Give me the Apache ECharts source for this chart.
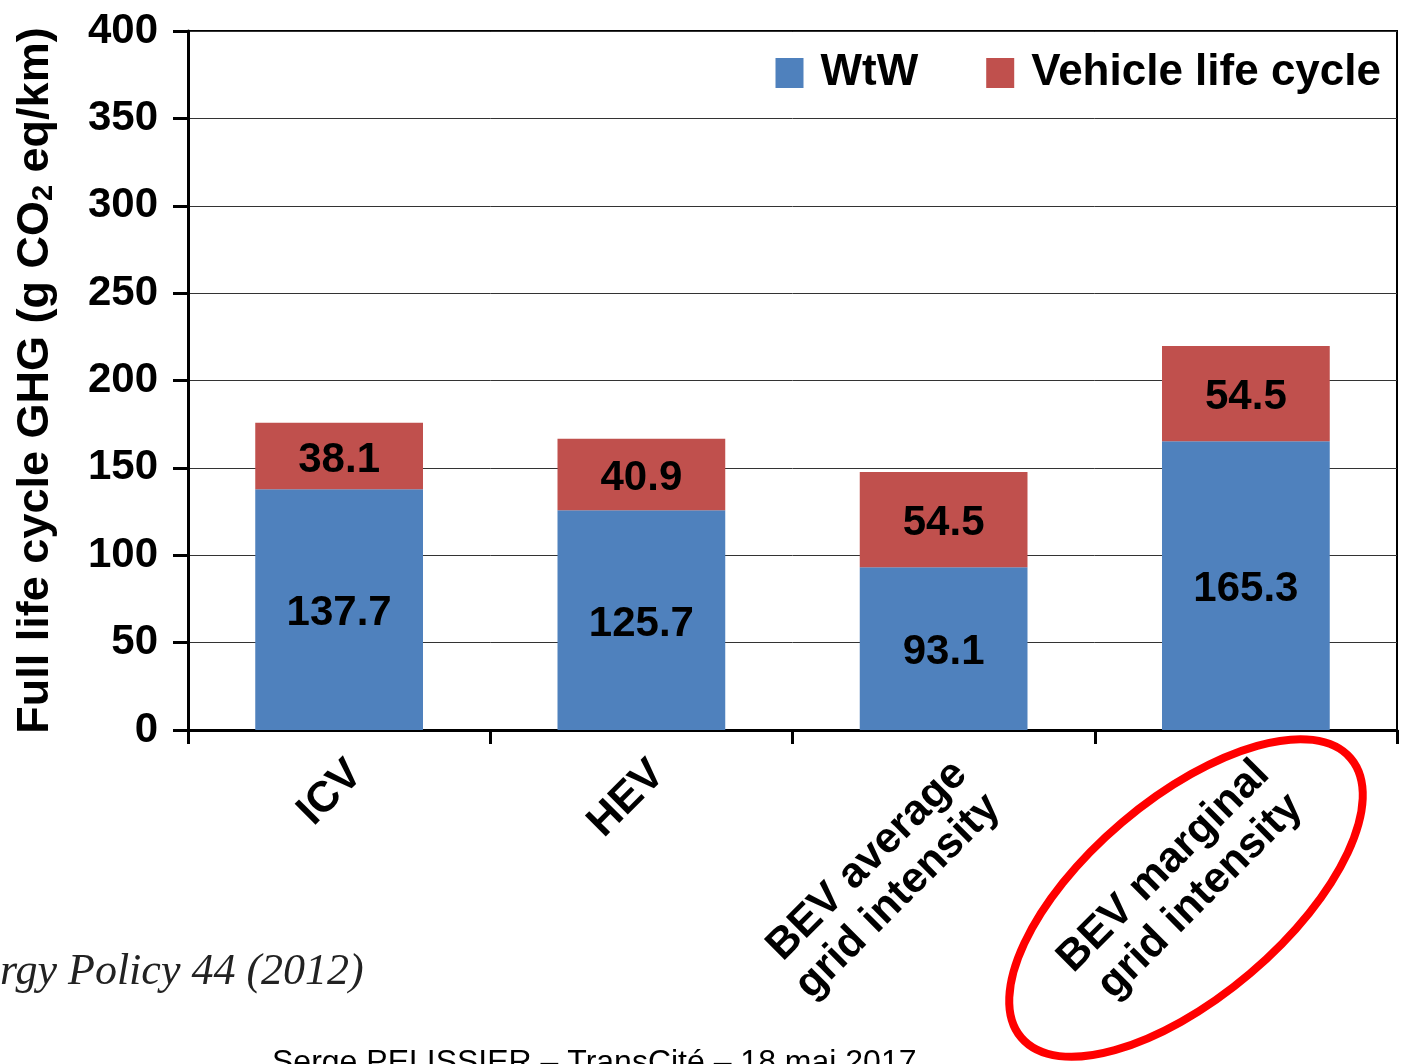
<!DOCTYPE html>
<html>
<head>
<meta charset="utf-8">
<script src="https://cdn.jsdelivr.net/npm/echarts@6/dist/echarts.min.js"></script>
<style>
html,body{margin:0;padding:0;background:#fff;}
#chart{width:1406px;height:1064px;}
</style>
</head>
<body>
<div id="chart"></div>
<script>
const categories = ['ICV', 'HEV', 'BEV average\ngrid intensity', 'BEV marginal\ngrid intensity'];
const wtwValues = [137.7, 125.7, 93.1, 165.3];
const lifeCycleValues = [38.1, 40.9, 54.5, 54.5];
const seriesNames = ['WtW', 'Vehicle life cycle'];
const yAxisTitle = 'Full life cycle GHG (g CO{sub|2} eq/km)';
const sourceText = 'rgy Policy 44 (2012)';
const footerText = 'Serge PELISSIER – TransCité – 18 mai 2017';

const FONT = '"Liberation Sans", Arial, sans-serif';
const chart = echarts.init(document.getElementById('chart'), null, {renderer: 'canvas'});

const barLabel = {
  show: true,
  position: 'inside',
  offset: [0, 4],
  color: '#000',
  fontFamily: FONT,
  fontWeight: 'bold',
  fontSize: 42,
  formatter: p => p.value.toFixed(1)
};

chart.setOption({
  animation: false,
  backgroundColor: '#fff',
  grid: {
    left: 188, right: 9, top: 31, bottom: 334,
    show: true, borderColor: '#000', borderWidth: 2, backgroundColor: 'transparent'
  },
  legend: {
    right: 20, top: 46,
    icon: 'rect',
    itemWidth: 28, itemHeight: 30,
    itemGap: 68,
    data: seriesNames,
    textStyle: {
      fontFamily: FONT, fontWeight: 'bold', fontSize: 44, color: '#000',
      padding: [0, 0, 0, 12]
    }
  },
  xAxis: {
    type: 'category',
    data: categories,
    axisLine: {lineStyle: {color: '#000', width: 3}},
    axisTick: {show: true, length: 14, lineStyle: {color: '#000', width: 3}},
    axisLabel: {
      rotate: 45,
      interval: 0,
      margin: 21,
      align: 'right',
      verticalAlign: 'top',
      color: '#000',
      fontFamily: FONT,
      fontWeight: 'bold',
      fontSize: 43,
      lineHeight: 47
    }
  },
  yAxis: {
    type: 'value',
    min: 0, max: 400, interval: 50,
    name: yAxisTitle,
    nameLocation: 'middle',
    nameGap: 130,
    nameTextStyle: {
      fontFamily: FONT, fontWeight: 'bold', fontSize: 45, color: '#000',
      rich: {
        sub: {fontFamily: FONT, fontWeight: 'bold', fontSize: 29, color: '#000', verticalAlign: 'bottom'}
      }
    },
    axisLine: {show: true, lineStyle: {color: '#000', width: 3}},
    axisTick: {show: true, length: 15, lineStyle: {color: '#000', width: 3}},
    axisLabel: {
      margin: 30,
      color: '#000',
      fontFamily: FONT,
      fontWeight: 'bold',
      fontSize: 42
    },
    splitLine: {show: true, lineStyle: {color: '#333', width: 1}}
  },
  series: [
    {
      name: seriesNames[0],
      type: 'bar',
      stack: 'total',
      barWidth: '55.5%',
      data: wtwValues,
      itemStyle: {color: '#4F81BD'},
      label: barLabel
    },
    {
      name: seriesNames[1],
      type: 'bar',
      stack: 'total',
      barWidth: '55.5%',
      data: lifeCycleValues,
      itemStyle: {color: '#C0504D'},
      label: barLabel
    }
  ],
  graphic: [
    {
      type: 'text',
      left: 0, top: 950,
      style: {
        text: sourceText,
        fontFamily: '"Liberation Serif", "DejaVu Serif", serif',
        fontStyle: 'italic',
        fontSize: 44,
        fill: '#222'
      }
    },
    {
      type: 'text',
      left: 272, top: 1047,
      style: {
        text: footerText,
        fontFamily: FONT,
        fontSize: 32,
        fill: '#000'
      }
    },
    {
      type: 'ellipse',
      x: 1186, y: 898,
      rotation: 40.3 * Math.PI / 180,
      shape: {cx: 0, cy: 0, rx: 216, ry: 99},
      style: {fill: 'none', stroke: '#FF0000', lineWidth: 8},
      z: 100
    }
  ]
});
</script>
</body>
</html>
